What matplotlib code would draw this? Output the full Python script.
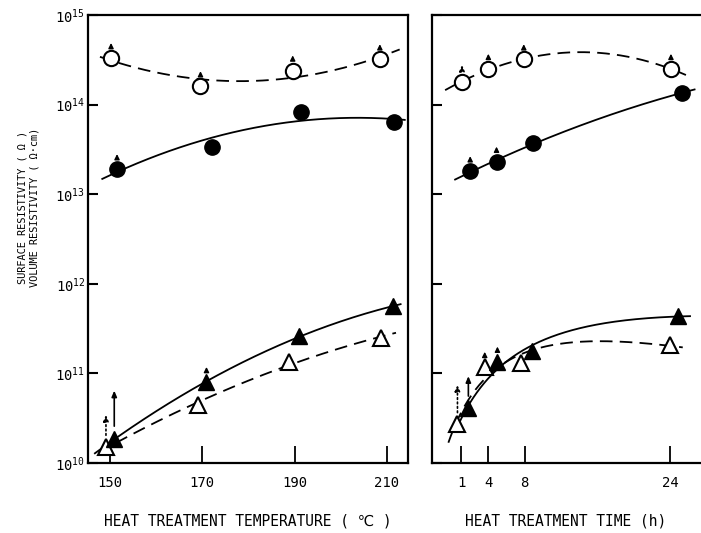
import numpy as np
import matplotlib
matplotlib.use("Agg")
import matplotlib.pyplot as plt

plt.rcParams['font.family'] = ['DejaVu Sans Mono', 'DejaVu Sans']
plt.rcParams['mathtext.fontset'] = 'custom'
plt.rcParams['mathtext.rm'] = 'DejaVu Sans Mono'
plt.rcParams['mathtext.it'] = 'DejaVu Sans Mono'

# ---- heat treatment temperature (left panel) ----
temp_oc = [150.2, 169.6, 189.6, 208.5]          # open circles, surface
temp_fc = [151.5, 172.0, 191.5, 211.5]          # filled circles, volume
temp_ot = [149.1, 169.1, 188.9, 208.7]          # open triangles, surface
temp_ft = [150.9, 170.9, 190.9, 211.3]          # filled triangles, volume
surf_circ_T = [3.3e14, 1.6e14, 2.4e14, 3.2e14]
vol_circ_T = [1.9e13, 3.4e13, 8.3e13, 6.4e13]
surf_tri_T = [1.5e10, 4.4e10, 1.35e11, 2.5e11]
vol_tri_T = [1.85e10, 8.0e10, 2.6e11, 5.6e11]

# ---- heat treatment time (right panel) ----
time_oc = [1.1, 4.0, 7.9, 24.1]
time_fc = [2.0, 4.9, 8.9, 25.3]
time_ot = [0.6, 3.6, 7.6, 24.0]
time_ft = [1.8, 5.0, 8.8, 24.9]
surf_circ_t = [1.8e14, 2.5e14, 3.2e14, 2.5e14]
vol_circ_t = [1.8e13, 2.3e13, 3.7e13, 1.35e14]
surf_tri_t = [2.7e10, 1.18e11, 1.3e11, 2.1e11]
vol_tri_t = [4.1e10, 1.35e11, 1.78e11, 4.4e11]

# long "greater than" arrows (x, from, to)
long_arrows_T = [(149.1, 1.9e10, 3.7e10, ':'), (150.9, 2.4e10, 6.9e10, '-')]
long_arrows_t = [(0.6, 3.4e10, 8.0e10, ':'), (1.8, 5.2e10, 1.0e11, '-')]

temp_ticks = [150, 170, 190, 210]
time_ticks = [1, 4, 8, 24]
decades = [1e10, 1e11, 1e12, 1e13, 1e14, 1e15]


def trend(ax, x, y, span, ls, transform=None):
    xs = np.asarray(x, float)
    u = xs if transform is None else transform(xs)
    c = np.polyfit(u, np.log10(y), 2)
    xx = np.linspace(span[0], span[1], 200)
    uu = xx if transform is None else transform(xx)
    line, = ax.plot(xx, 10 ** np.polyval(c, uu), color='black', lw=1.3)
    if ls == '--':
        line.set_dashes((7, 4))


def small_arrows(ax, xs, ys, idx):
    for i in idx:
        ax.annotate('', xy=(xs[i], ys[i] * 10 ** 0.2), xytext=(xs[i], ys[i] * 10 ** 0.1),
                    arrowprops=dict(arrowstyle='-|>,head_length=0.3,head_width=0.15',
                                    color='black', lw=1.0))


def long_arrows(ax, arrows):
    for x, y0, y1, ls in arrows:
        ax.annotate('', xy=(x, y1), xytext=(x, y0),
                    arrowprops=dict(arrowstyle='-|>,head_length=0.35,head_width=0.15',
                                    color='black', lw=1.2, linestyle=ls))


def markers(ax, xoc, yoc, xfc, yfc, xot, yot, xft, yft):
    ax.plot(xoc, yoc, 'o', ms=11, mfc='white', mec='black', mew=1.5, zorder=5)
    ax.plot(xfc, yfc, 'o', ms=11, mfc='black', mec='black', zorder=5)
    ax.plot(xot, yot, '^', ms=12, mfc='white', mec='black', mew=1.5, zorder=5)
    ax.plot(xft, yft, '^', ms=12, mfc='black', mec='black', zorder=5)


def style(ax):
    ax.set_yscale('log')
    ax.set_ylim(1e10, 1e15)
    ax.minorticks_off()
    ax.tick_params(axis='y', direction='in', length=7, width=1.5, pad=2, labelsize=10)
    ax.tick_params(axis='x', direction='in', length=12, width=1.3, pad=9, labelsize=10)
    for s in ax.spines.values():
        s.set_linewidth(1.6)


fig = plt.figure(figsize=(7.01, 5.33), dpi=100)
ax1 = fig.add_axes([0.1255, 0.1313, 0.4565, 0.8406])
ax2 = fig.add_axes([0.6163, 0.1313, 0.3823, 0.8406])

# left panel
style(ax1)
ax1.set_xlim(145.2, 214.6)
trend(ax1, temp_oc, surf_circ_T, (147.8, 212.8), '--')
trend(ax1, temp_fc, vol_circ_T, (148.3, 213.9), '-')
trend(ax1, temp_ot, surf_tri_T, (147.5, 212.0), '--')
trend(ax1, temp_ft, vol_tri_T, (146.7, 213.0), '-')
markers(ax1, temp_oc, surf_circ_T, temp_fc, vol_circ_T, temp_ot, surf_tri_T, temp_ft, vol_tri_T)
small_arrows(ax1, temp_oc, surf_circ_T, [0, 1, 2, 3])
small_arrows(ax1, temp_fc, vol_circ_T, [0])
small_arrows(ax1, temp_ft, vol_tri_T, [1])
long_arrows(ax1, long_arrows_T)
ax1.set_xticks(temp_ticks)
ax1.set_yticks(decades)
ax1.set_yticklabels([r'$10^{%d}$' % np.log10(d) for d in decades])
ax1.set_xlabel('HEAT TREATMENT TEMPERATURE ( \u2103 )', fontsize=10.5, labelpad=17)

# right panel
style(ax2)
ax2.set_xlim(-2.2, 27.3)
ax2.spines['right'].set_visible(False)
logt = lambda t: np.log(t + 6.0)
trend(ax2, time_oc, surf_circ_t, (-0.76, 25.75), '--')
trend(ax2, time_fc, vol_circ_t, (0.34, 26.7), '-')
trend(ax2, time_ot, surf_tri_t, (-0.4, 25.4), '--', transform=logt)
trend(ax2, time_ft, vol_tri_t, (0.4, 26.2), '-', transform=logt)
markers(ax2, time_oc, surf_circ_t, time_fc, vol_circ_t, time_ot, surf_tri_t, time_ft, vol_tri_t)
small_arrows(ax2, time_oc, surf_circ_t, [1, 2, 3])
small_arrows(ax2, time_fc, vol_circ_t, [0, 1])
small_arrows(ax2, time_ot, surf_tri_t, [1])
small_arrows(ax2, time_ft, vol_tri_t, [1])
long_arrows(ax2, long_arrows_t + [(time_oc[0], surf_circ_t[0] * 10 ** 0.1, surf_circ_t[0] * 10 ** 0.22, ':')])
ax2.set_xticks(time_ticks)
ax2.set_yticks(decades)
ax2.set_yticklabels([])
ax2.set_xlabel('HEAT TREATMENT TIME (h)', fontsize=10.5, labelpad=17)

fig.text(0.032, 0.61, 'SURFACE RESISTIVITY ( \u03a9 )', rotation=90, fontsize=7.4,
         ha='center', va='center')
fig.text(0.049, 0.61, 'VOLUME RESISTIVITY ( \u03a9\u00b7cm)', rotation=90, fontsize=7.4,
         ha='center', va='center')

fig.savefig('out.png', dpi=100)
